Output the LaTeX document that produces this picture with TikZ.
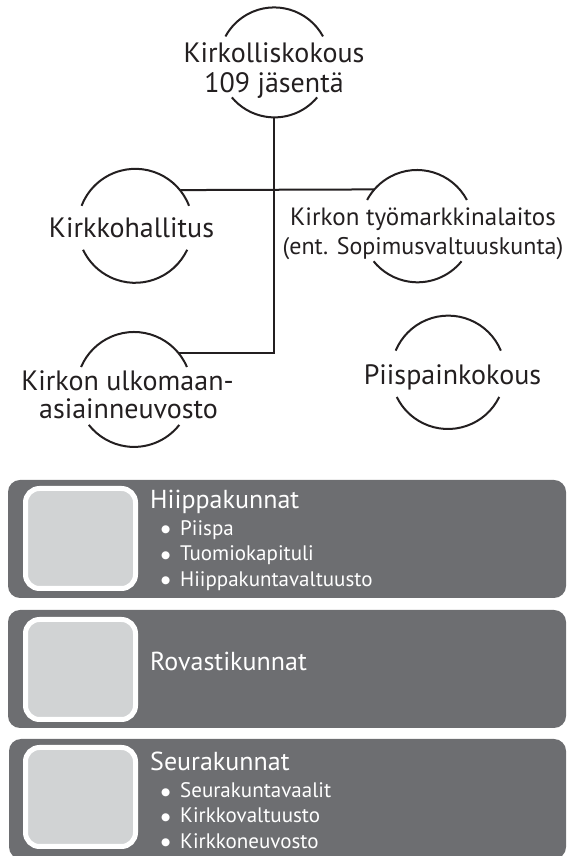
\documentclass[tikz,border=0pt]{standalone}
\usepackage{fontspec}
\setmainfont{PT Sans}
\newfontfamily\bulletfont{DejaVu Sans}
\definecolor{ink}{HTML}{231F20}
\definecolor{boxgray}{HTML}{6D6E71}
\definecolor{innergray}{HTML}{D1D3D4}
\newcommand{\bul}{\makebox[19pt][l]{\raisebox{2.6pt}{\bulletfont\fontsize{10.5}{12}\selectfont ●}}}
\begin{document}
\begin{tikzpicture}[x=1pt,y=1pt,
  ring/.style={circle,draw=none,inner sep=0pt,outer sep=0pt},
  arcline/.style={draw=ink,line width=2pt},
  conn/.style={draw=ink,line width=2pt},
  ctext/.style={anchor=base,inner sep=0pt,text=ink,font=\fontsize{28}{30}\selectfont},
  band/.style={fill=boxgray,rounded corners=12pt},
  tile/.style={fill=innergray,draw=white,line width=5pt,rounded corners=14pt},
  btitle/.style={anchor=base west,inner sep=0pt,text=white,font=\fontsize{26}{28}\selectfont},
  bitem/.style={anchor=base west,inner sep=0pt,text=white,font=\fontsize{21}{23}\selectfont}]
\useasboundingbox (0,0) rectangle (567,856);
% circles (invisible nodes)
\node[ring,minimum size=111pt] (A) at (274,793.5) {};
\node[ring,minimum size=115pt] (B) at (135,630.5) {};
\node[ring,minimum size=113pt] (C) at (417,629.5) {};
\node[ring,minimum size=115pt] (D) at (134,466.5) {};
\node[ring,minimum size=114pt] (E) at (448,484) {};
% arcs
\draw[arcline] (A.28.5) arc[start angle=28.5,end angle=151.5,radius=55.5pt];
\draw[arcline] (A.-39.8) arc[start angle=-39.8,end angle=-140.2,radius=55.5pt];
\draw[arcline] (B.20.9) arc[start angle=20.9,end angle=159.1,radius=57.5pt];
\draw[arcline] (B.-25.2) arc[start angle=-25.2,end angle=-154.8,radius=57.5pt];
\draw[arcline] (C.28) arc[start angle=28,end angle=152,radius=56.5pt];
\draw[arcline] (C.-38.9) arc[start angle=-38.9,end angle=-141.1,radius=56.5pt];
\draw[arcline] (D.23) arc[start angle=23,end angle=157,radius=57.5pt];
\draw[arcline] (D.-38.1) arc[start angle=-38.1,end angle=-141.9,radius=57.5pt];
\draw[arcline] (E.22.7) arc[start angle=22.7,end angle=157.3,radius=57pt];
\draw[arcline] (E.-26) arc[start angle=-26,end angle=-154,radius=57pt];
% connectors
\draw[conn] (A.south) |- (D.39.4);
\draw[conn] (B.38.1) -- (C.139.8);
% circle texts
\node[ctext] (a1) at (274,793) {Kirkolliskokous};
\node[ctext] (a2) at (274,763) {109 jäsentä};
\node[ctext] (b1) at (131.5,618) {Kirkkohallitus};
\node[ctext,font=\fontsize{25}{28}\selectfont] (c1) at (423,630) {Kirkon työmarkkinalaitos};
\node[ctext,font=\fontsize{24}{28}\selectfont] (c2) at (423,601) {(ent. Sopimusvaltuuskunta)};
\node[ctext] (d1) at (127.5,465) {Kirkon ulkomaan-};
\node[ctext] (d2) at (128.5,437) {asiainneuvosto};
\node[ctext] (e1) at (452.5,471) {Piispainkokous};
% bands
\path[band] (8,258) rectangle (566,376);
\path[band] (8,128) rectangle (566,246);
\path[band] (9,-3) rectangle (566,117);
\path[tile] (25.5,267.5) rectangle (135.5,367.5);
\path[tile] (25.5,136.5) rectangle (135.5,236.5);
\path[tile] (25.5,9.5) rectangle (135.5,108.5);
% band texts
\node[btitle] (h0) at (150,347) {Hiippakunnat};
\node[bitem] (h1) at (161,320.5) {\bul Piispa};
\node[bitem] (h2) at (161,295) {\bul Tuomiokapituli};
\node[bitem] (h3) at (161,269.5) {\bul Hiippakuntavaltuusto};
\node[btitle] (r0) at (150,185.5) {Rovastikunnat};
\node[btitle] (s0) at (150,85.5) {Seurakunnat};
\node[bitem] (s1) at (161,58) {\bul Seurakuntavaalit};
\node[bitem] (s2) at (161,33) {\bul Kirkkovaltuusto};
\node[bitem] (s3) at (161,7.5) {\bul Kirkkoneuvosto};
\end{tikzpicture}
\end{document}
